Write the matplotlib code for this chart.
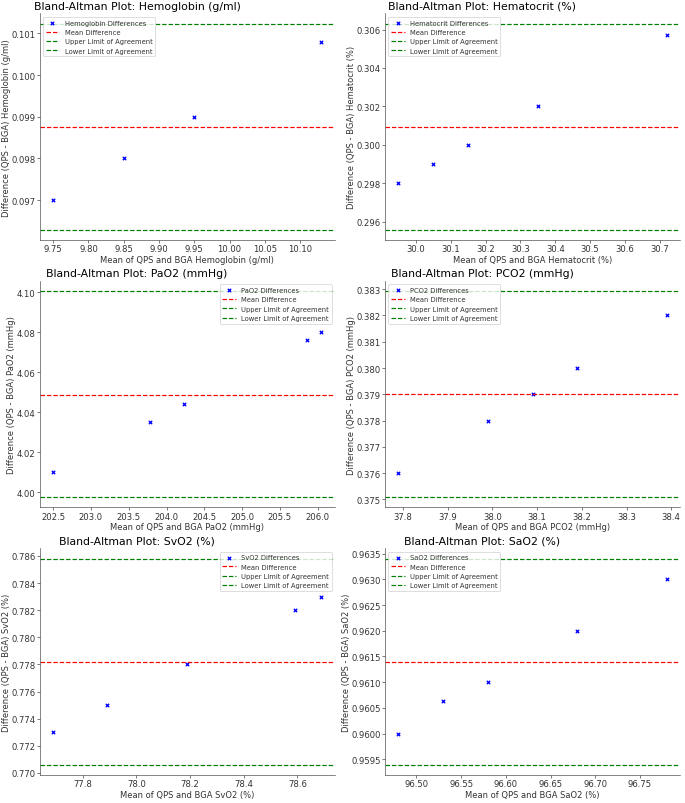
import numpy as np
import matplotlib
matplotlib.use("Agg")
import matplotlib.pyplot as plt

# values
names = ["Hemoglobin (g/ml)", "Hematocrit (%)", "PaO2 (mmHg)",
         "PCO2 (mmHg)", "SvO2 (%)", "SaO2 (%)"]
short = ["Hemoglobin", "Hematocrit", "PaO2", "PCO2", "SvO2", "SaO2"]

hb_mean = [9.75, 9.85, 9.95, 10.13]
hb_diff = [0.097, 0.098, 0.099, 0.1008]
hct_mean = [29.95, 30.05, 30.15, 30.35, 30.72]
hct_diff = [0.298, 0.299, 0.300, 0.302, 0.30572]
pao2_mean = [202.5, 203.78, 204.23, 205.86, 206.05]
pao2_diff = [4.010, 4.035, 4.044, 4.076, 4.080]
pco2_mean = [37.79, 37.99, 38.09, 38.19, 38.39]
pco2_diff = [0.376, 0.378, 0.379, 0.380, 0.382]
svo2_mean = [77.69, 77.89, 78.19, 78.59, 78.69]
svo2_diff = [0.773, 0.775, 0.778, 0.782, 0.783]
sao2_mean = [96.48, 96.53, 96.58, 96.68, 96.78]
sao2_diff = [0.9600, 0.96064, 0.9610, 0.9620, 0.9630]

# mean difference, upper and lower limits of agreement
mean_diff = [0.09876, 0.30092, 4.0487, 0.3790, 0.77817, 0.96140]
upper_loa = [0.10123, 0.30630, 4.1005, 0.38292, 0.78580, 0.96340]
lower_loa = [0.09629, 0.29558, 3.9975, 0.37509, 0.77062, 0.95940]

means = [hb_mean, hct_mean, pao2_mean, pco2_mean, svo2_mean, sao2_mean]
diffs = [hb_diff, hct_diff, pao2_diff, pco2_diff, svo2_diff, sao2_diff]
legend_loc = ["upper left", "upper left", "upper right",
              "upper left", "upper right", "upper left"]

fig, axes = plt.subplots(3, 2, figsize=(6.85 * 100 / 58, 8.04 * 100 / 58), dpi=58)
plt.subplots_adjust(left=0.058, right=0.993, bottom=0.035, top=0.982,
                    wspace=0.17, hspace=0.181)

for i, ax in enumerate(axes.flat):
    ax.scatter(means[i], diffs[i], color="blue", marker="x", s=18,
               linewidths=1.6, label=short[i] + " Differences")
    ax.axhline(mean_diff[i], color="red", linestyle="--", label="Mean Difference")
    ax.axhline(upper_loa[i], color="green", linestyle="--", label="Upper Limit of Agreement")
    ax.axhline(lower_loa[i], color="green", linestyle="--", label="Lower Limit of Agreement")
    ax.set_title("Bland-Altman Plot: " + names[i], x=0.33, fontsize=13.5)
    ax.set_xlabel("Mean of QPS and BGA " + names[i], color="#333333",
                  fontsize=10.4, labelpad=2)
    ax.set_ylabel("Difference (QPS - BGA) " + names[i], color="#333333",
                  fontsize=10.4, labelpad=0.5)
    ax.tick_params(colors="#333333", labelsize=10.5, pad=2)
    for side in ["left", "bottom"]:
        ax.spines[side].set_color("#444444")
    ax.spines["top"].set_visible(False)
    ax.spines["right"].set_visible(False)
    ax.legend(loc=legend_loc[i], fontsize="small", labelcolor="#333333")

# tick spacing as in the reference
axes[0, 0].xaxis.set_major_locator(plt.MultipleLocator(0.05))
axes[0, 0].yaxis.set_major_locator(plt.MultipleLocator(0.001))
axes[0, 1].xaxis.set_major_locator(plt.MultipleLocator(0.1))
axes[0, 1].yaxis.set_major_locator(plt.MultipleLocator(0.002))
axes[1, 0].xaxis.set_major_locator(plt.MultipleLocator(0.5))
axes[1, 0].yaxis.set_major_locator(plt.MultipleLocator(0.02))
axes[1, 1].xaxis.set_major_locator(plt.MultipleLocator(0.1))
axes[1, 1].yaxis.set_major_locator(plt.MultipleLocator(0.001))
axes[2, 0].xaxis.set_major_locator(plt.MultipleLocator(0.2))
axes[2, 0].yaxis.set_major_locator(plt.MultipleLocator(0.002))
axes[2, 1].xaxis.set_major_locator(plt.MultipleLocator(0.05))
axes[2, 1].yaxis.set_major_locator(plt.MultipleLocator(0.0005))

plt.savefig("out.png", dpi=58)
